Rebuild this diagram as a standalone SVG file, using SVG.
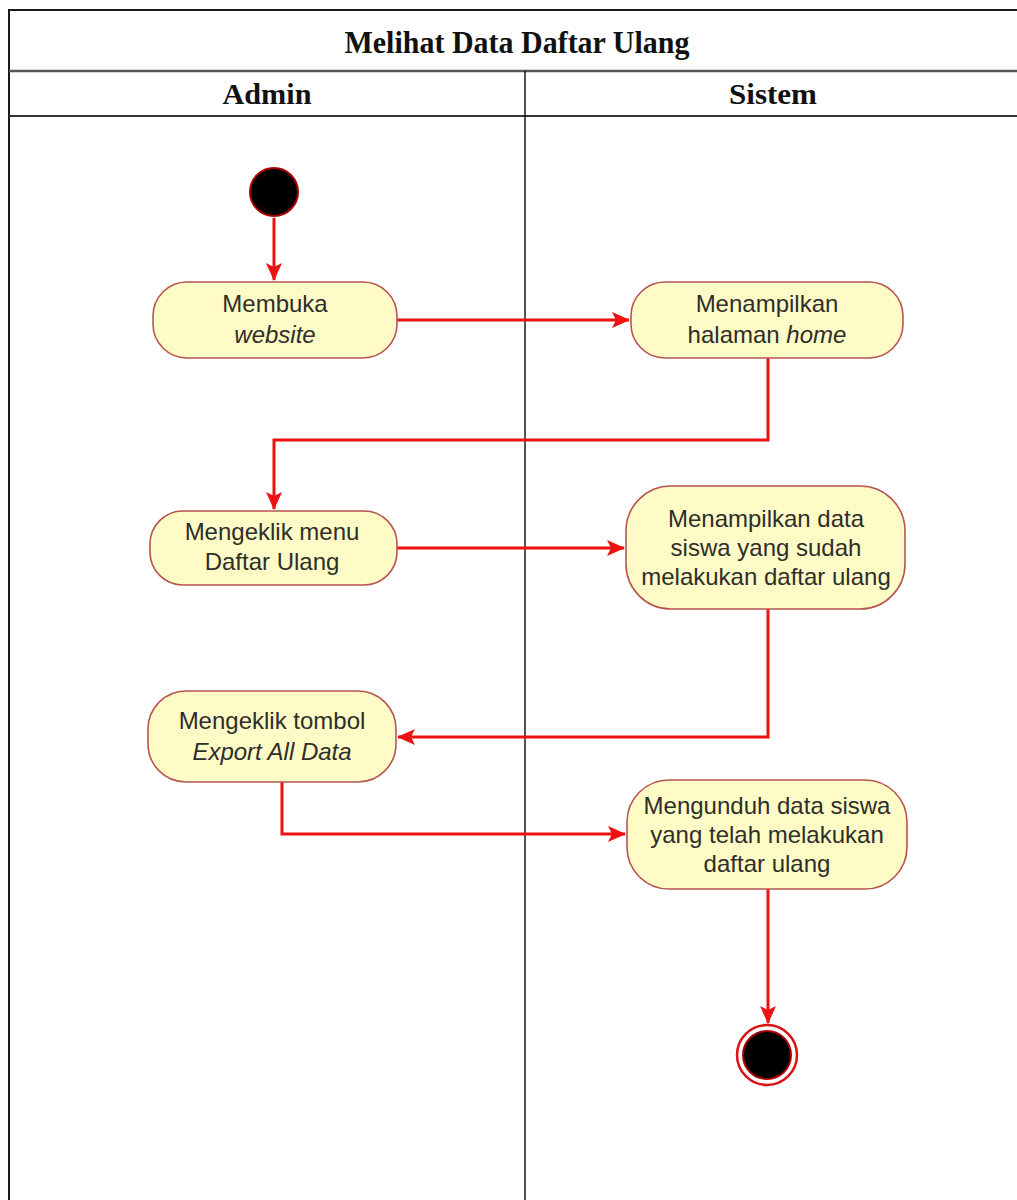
<svg xmlns="http://www.w3.org/2000/svg" width="1017" height="1200" viewBox="0 0 1017 1200">
  <style>
    .frame { fill: none; stroke: #1a1a1a; stroke-width: 2; }
    .lane { stroke: #1a1a1a; stroke-width: 1.5; }
    .title { font-family: "Liberation Serif", "Times New Roman", serif; font-weight: bold; fill: #111; text-anchor: middle; }
    .act rect { fill: #fffbc6; stroke: #b85450; stroke-width: 1.6; }
    .act text { font-family: "Liberation Sans", Arial, sans-serif; font-size: 24px; fill: #2e2e2a; text-anchor: middle; }
    .it { font-style: italic; }
    .flow { fill: none; stroke: #ee1111; stroke-width: 3; }
  </style>
  <defs>
    <marker id="arrow" viewBox="0 0 18 16" refX="17" refY="8" markerWidth="18" markerHeight="16" markerUnits="userSpaceOnUse" orient="auto">
      <path d="M0,0 L18,8 L0,16 L4,8 Z" fill="#ee1111"/>
    </marker>
  </defs>

  <rect width="1017" height="1200" fill="#ffffff"/>

  <!-- swimlane frame -->
  <g id="pool">
    <path class="frame" d="M9,1200 V10 H1030"/>
    <line x1="9" y1="71" x2="1017" y2="71" stroke="#555" stroke-width="2.5"/>
    <line x1="9" y1="116" x2="1017" y2="116" stroke="#333" stroke-width="2"/>
    <line class="lane" x1="525" y1="71" x2="525" y2="1200"/>
    <text class="title" x="517" y="53" font-size="31" textLength="345" lengthAdjust="spacingAndGlyphs">Melihat Data Daftar Ulang</text>
    <text class="title" x="267" y="104" font-size="29" textLength="89" lengthAdjust="spacingAndGlyphs">Admin</text>
    <text class="title" x="773" y="104" font-size="29" textLength="88" lengthAdjust="spacingAndGlyphs">Sistem</text>
  </g>

  <!-- connectors -->
  <g id="connectors">
    <path class="flow" d="M274,218 V280" marker-end="url(#arrow)"/>
    <path class="flow" d="M397,320 H629" marker-end="url(#arrow)"/>
    <path class="flow" d="M768,358 V440 H274 V509" marker-end="url(#arrow)"/>
    <path class="flow" d="M397,548 H624" marker-end="url(#arrow)"/>
    <path class="flow" d="M768,609 V737 H398" marker-end="url(#arrow)"/>
    <path class="flow" d="M282,782 V834 H625" marker-end="url(#arrow)"/>
    <path class="flow" d="M768,889 V1023" marker-end="url(#arrow)"/>
  </g>

  <!-- start node -->
  <g id="start">
    <circle cx="274" cy="192" r="24" fill="#000" stroke="#a00" stroke-width="2"/>
  </g>

  <g id="membuka-website" class="act">
    <rect x="153" y="282" width="244" height="76" rx="34"/>
    <text x="275" y="312">Membuka</text>
    <text x="275" y="343" class="it">website</text>
  </g>

  <g id="menampilkan-home" class="act">
    <rect x="631" y="282" width="272" height="76" rx="34"/>
    <text x="767" y="312">Menampilkan</text>
    <text x="767" y="343">halaman <tspan class="it">home</tspan></text>
  </g>

  <g id="klik-menu" class="act">
    <rect x="150" y="511" width="247" height="74" rx="33"/>
    <text x="272" y="540">Mengeklik menu</text>
    <text x="272" y="570">Daftar Ulang</text>
  </g>

  <g id="tampil-data" class="act">
    <rect x="626" y="486" width="279" height="123" rx="45"/>
    <text x="766" y="527">Menampilkan data</text>
    <text x="766" y="556">siswa yang sudah</text>
    <text x="766" y="585">melakukan daftar ulang</text>
  </g>

  <g id="klik-export" class="act">
    <rect x="148" y="691" width="248" height="91" rx="38"/>
    <text x="272" y="729">Mengeklik tombol</text>
    <text x="272" y="760" class="it">Export All Data</text>
  </g>

  <g id="unduh-data" class="act">
    <rect x="627" y="780" width="280" height="109" rx="42"/>
    <text x="767" y="814">Mengunduh data siswa</text>
    <text x="767" y="843">yang telah melakukan</text>
    <text x="767" y="872">daftar ulang</text>
  </g>

  <!-- end node -->
  <g id="end">
    <circle cx="767" cy="1055" r="30" fill="#fff" stroke="#d11" stroke-width="2.5"/>
    <circle cx="767" cy="1055" r="24" fill="#000" stroke="#a00" stroke-width="2"/>
  </g>
</svg>
